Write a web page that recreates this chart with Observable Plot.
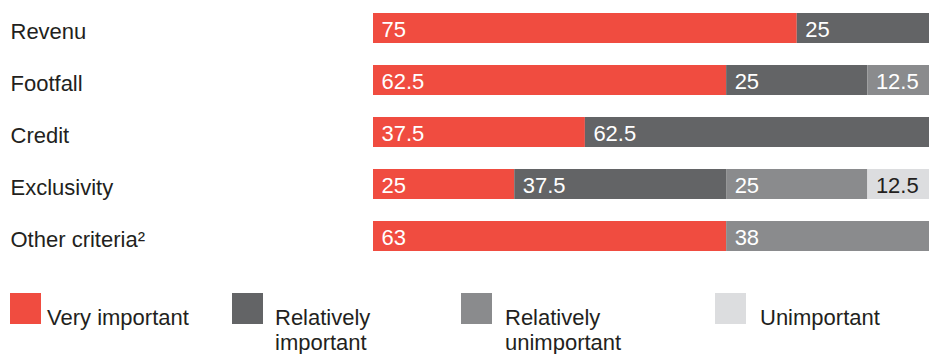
<!DOCTYPE html>
<html>
<head>
<meta charset="utf-8">
<script src="https://cdn.jsdelivr.net/npm/d3@7"></script>
<script src="https://cdn.jsdelivr.net/npm/@observablehq/plot@0.6"></script>
<style>
  html, body { margin: 0; padding: 0; background: #fff; overflow: hidden; }
  body { font-family: "Liberation Sans", Arial, sans-serif; color: #231f20; }
  #wrap { position: relative; width: 929px; }
  #legend { position: relative; width: 929px; height: 84px; }
  .sw { position: absolute; width: 31px; height: 31px; top: 23px; }
  .lt { position: absolute; top: 35px; font-size: 22px; line-height: 25px; color: #231f20; white-space: nowrap; }
</style>
</head>
<body>
<div id="wrap"></div>
<div id="legend"></div>
<script>
const categories = ["Revenu", "Footfall", "Credit", "Exclusivity", "Other criteria\u00B2"];
const levels = ["Very important", "Relatively important", "Relatively unimportant", "Unimportant"];
const legendLabels = ["Very important", "Relatively\nimportant", "Relatively\nunimportant", "Unimportant"];
const veryImportant = [75, 62.5, 37.5, 25, 62.5];
const relativelyImportant = [25, 25, 62.5, 37.5, 0];
const relativelyUnimportant = [0, 12.5, 0, 25, 37.5];
const unimportant = [0, 0, 0, 12.5, 0];
// categories whose labels are shown rounded to whole numbers
const roundedCategories = ["Other criteria\u00B2"];
const colors = ["#f04c40", "#636466", "#8a8b8d", "#dcdddf"];

const series = [veryImportant, relativelyImportant, relativelyUnimportant, unimportant];
const data = [];
categories.forEach((c, i) => {
  levels.forEach((l, j) => {
    const v = series[j][i];
    if (v > 0) data.push({
      cat: c, level: l, value: v,
      label: roundedCategories.includes(c) ? String(Math.round(v)) : String(v)
    });
  });
});

const font = "'Liberation Sans', Arial, sans-serif";

const chart = Plot.plot({
  width: 929,
  height: 270,
  marginLeft: 373,
  marginRight: 0,
  marginTop: 0,
  marginBottom: 0,
  style: {fontFamily: font, fontSize: "22px", background: "#fff", color: "#231f20"},
  x: {domain: [0, 100], range: [373, 938], axis: null},
  y: {domain: categories, range: [11, 252], paddingInner: 0.43, paddingOuter: 0, axis: null},
  color: {domain: levels, range: colors},
  marks: [
    Plot.barX(data, Plot.stackX({x: "value", y: "cat", z: "level", fill: "level"})),
    Plot.text(data,
      Plot.stackX1({x: "value", y: "cat", z: "level",
        text: d => d.level !== "Unimportant" ? d.label : "",
        textAnchor: "start", dx: 8, dy: 1, fill: "#ffffff", fontSize: 22})),
    Plot.text(data,
      Plot.stackX1({x: "value", y: "cat", z: "level",
        text: d => d.level === "Unimportant" ? d.label : "",
        textAnchor: "start", dx: 8, dy: 1, fill: "#231f20", fontSize: 22})),
    Plot.text(categories, {y: d => d, text: d => d, frameAnchor: "left",
      textAnchor: "start", dx: -363, dy: 3, fill: "#231f20", fontSize: 22})
  ]
});
document.getElementById("wrap").appendChild(chart);

const legend = document.getElementById("legend");
const swLeft = [10, 232, 461, 715];
const txLeft = [47, 275, 505, 760];
levels.forEach((l, i) => {
  const s = document.createElement("div");
  s.className = "sw";
  s.style.left = swLeft[i] + "px";
  s.style.background = colors[i];
  legend.appendChild(s);
  const t = document.createElement("div");
  t.className = "lt";
  t.style.left = txLeft[i] + "px";
  t.innerHTML = legendLabels[i].split("\n").join("<br>");
  legend.appendChild(t);
});
</script>
</body>
</html>
